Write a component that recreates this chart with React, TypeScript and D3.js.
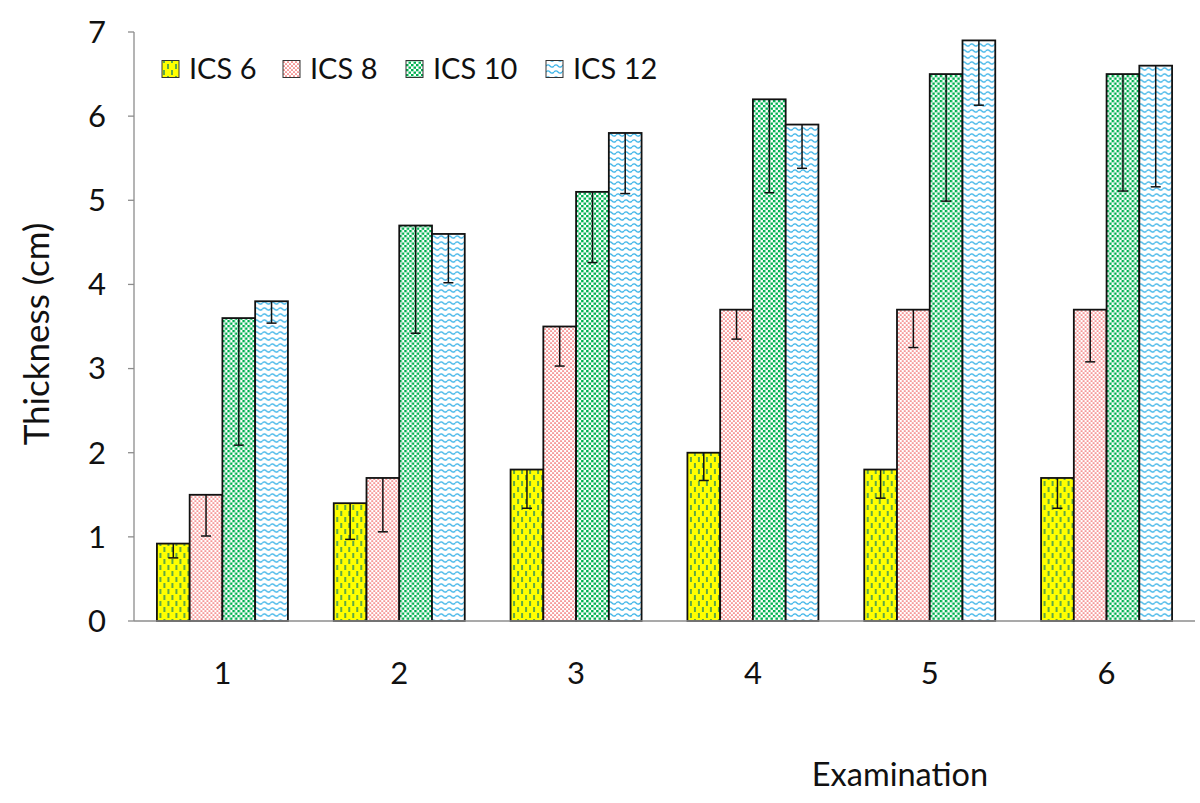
import React from "react";
import * as d3 from "d3";

const categories = ["1", "2", "3", "4", "5", "6"];
const seriesNames = ["ICS 6", "ICS 8", "ICS 10", "ICS 12"];
const ics6 = [0.92, 1.4, 1.8, 2.0, 1.8, 1.7];
const ics8 = [1.5, 1.7, 3.5, 3.7, 3.7, 3.7];
const ics10 = [3.6, 4.7, 5.1, 6.2, 6.5, 6.5];
const ics12 = [3.8, 4.6, 5.8, 5.9, 6.9, 6.6];
const ics6Err = [0.17, 0.43, 0.46, 0.33, 0.34, 0.36];
const ics8Err = [0.49, 0.64, 0.47, 0.35, 0.45, 0.62];
const ics10Err = [1.51, 1.28, 0.84, 1.11, 1.51, 1.39];
const ics12Err = [0.26, 0.58, 0.72, 0.52, 0.77, 1.44];
const yTicks = [0, 1, 2, 3, 4, 5, 6, 7];

const seriesValues = [ics6, ics8, ics10, ics12];
const seriesErrors = [ics6Err, ics8Err, ics10Err, ics12Err];
const patternIds = ["pYellow", "pPink", "pGreen", "pBlue"];

const FONT = "Lato, 'Open Sans', sans-serif";

export default function App() {
  const W = 1200, H = 803;
  const left = 134, right = 1195, top = 32, bottom = 621;
  const x0 = d3.scaleBand<string>().domain(categories).range([left, right]).padding(0);
  const groupW = 131;
  const x1 = d3.scaleBand<string>().domain(seriesNames).range([-groupW / 2, groupW / 2]).padding(0);
  const y = d3.scaleLinear().domain([0, 7]).range([bottom, top]);

  const legendX = [162, 283, 406, 546];

  return (
    <svg width={W} height={H} style={{ position: "absolute", left: 0, top: 0, background: "#fff" }}>
      <defs>
        <pattern id="pYellow" patternUnits="userSpaceOnUse" width="8" height="12">
          <rect width="8" height="12" fill="#ffff00" />
          <line x1="2" y1="1" x2="2" y2="6" stroke="#2a8c5c" strokeWidth="1.5" />
          <line x1="6" y1="7" x2="6" y2="12" stroke="#2a8c5c" strokeWidth="1.5" />
        </pattern>
        <pattern id="pPink" patternUnits="userSpaceOnUse" width="4" height="4">
          <rect width="4" height="4" fill="#ffffff" />
          <circle cx="1" cy="1" r="0.85" fill="#ee4a4a" />
          <circle cx="3" cy="3" r="0.85" fill="#ee4a4a" />
        </pattern>
        <pattern id="pGreen" patternUnits="userSpaceOnUse" width="5" height="5">
          <rect width="5" height="5" fill="#ffffff" />
          <rect x="0" y="0" width="2.5" height="2.3" fill="#00b050" />
          <rect x="2.5" y="2.5" width="2.5" height="2.3" fill="#00b050" />
        </pattern>
        <pattern id="pBlue" patternUnits="userSpaceOnUse" width="8" height="6">
          <rect width="8" height="6" fill="#ffffff" />
          <path d="M0 3 Q2 0.6 4 3 T8 3" fill="none" stroke="#3cb4e8" strokeWidth="1.2" />
        </pattern>
      </defs>

      {/* y axis */}
      <line x1={left} x2={left} y1={top} y2={bottom} stroke="#8c8c8c" strokeWidth={1.3} />
      {yTicks.map((t) => (
        <g key={t}>
          <line x1={left - 6} x2={left} y1={y(t)} y2={y(t)} stroke="#8c8c8c" strokeWidth={1.3} />
          <text x={106} y={y(t)} dy="0.35em" textAnchor="end" fontFamily={FONT} fontSize={31} fill="#111">
            {t}
          </text>
        </g>
      ))}

      {/* bars */}
      {categories.map((c, ci) => (
        <g key={c} transform={`translate(${x0(c)! + x0.bandwidth() / 2},0)`}>
          {seriesNames.map((s, si) => {
            const v = seriesValues[si][ci];
            const e = seriesErrors[si][ci];
            const bx = x1(s)!;
            const bw = x1.bandwidth();
            const cx = bx + bw / 2;
            return (
              <g key={s}>
                <rect x={bx} y={y(v)} width={bw} height={y(0) - y(v)} fill={`url(#${patternIds[si]})`} stroke="#111" strokeWidth={1.8} />
                <line x1={cx} x2={cx} y1={y(v)} y2={y(v - e)} stroke="#111" strokeWidth={1.5} />
                <line x1={cx - 5} x2={cx + 5} y1={y(v - e)} y2={y(v - e)} stroke="#111" strokeWidth={1.5} />
              </g>
            );
          })}
        </g>
      ))}

      {/* x axis */}
      <line x1={left} x2={right} y1={bottom} y2={bottom} stroke="#8c8c8c" strokeWidth={1.3} />
      {categories.map((c) => (
        <text key={c} x={x0(c)! + x0.bandwidth() / 2} y={673} dy="0.35em" textAnchor="middle" fontFamily={FONT} fontSize={31} fill="#111">
          {c}
        </text>
      ))}

      {/* axis titles */}
      <text x={900} y={775} dy="0.35em" textAnchor="middle" fontFamily={FONT} fontSize={32.5} fill="#111">
        Examination
      </text>
      <text transform={`translate(37,334) rotate(-90)`} dy="0.35em" textAnchor="middle" fontFamily={FONT} fontSize={35} fill="#111">
        Thickness (cm)
      </text>

      {/* legend */}
      {seriesNames.map((s, si) => (
        <g key={s} transform={`translate(${legendX[si]},69)`}>
          <rect x={0} y={-8.5} width={17} height={17} fill={`url(#${patternIds[si]})`} stroke="#333" strokeWidth={1} />
          <text x={27} y={0} dy="0.35em" fontFamily={FONT} fontSize={29} fill="#111">
            {s}
          </text>
        </g>
      ))}
    </svg>
  );
}
